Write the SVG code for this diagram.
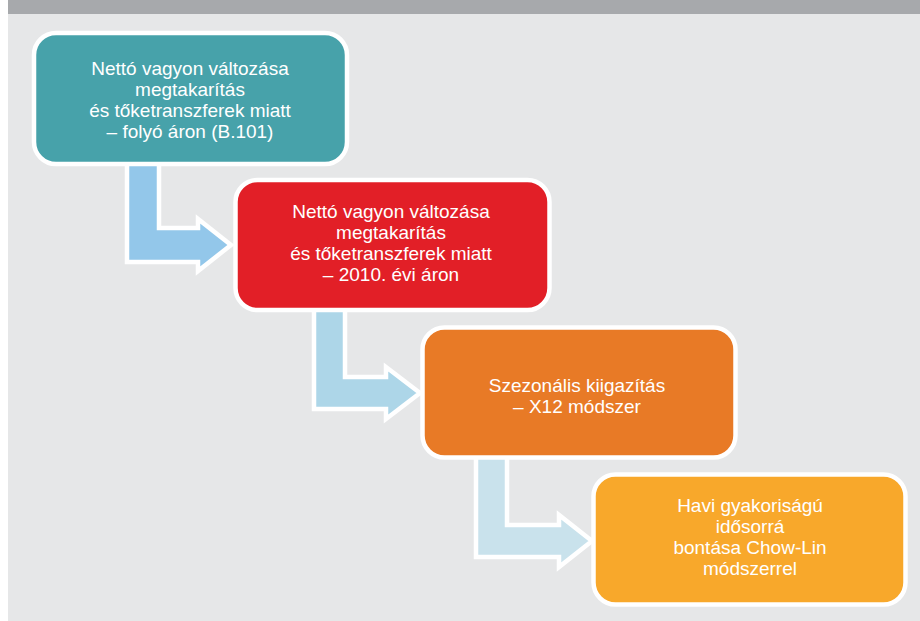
<svg xmlns="http://www.w3.org/2000/svg" width="920" height="621" viewBox="0 0 920 621">
<style>
.bg{fill:#E6E7E8}
.hdr{fill:#A7A9AC}
.box{stroke:#FFFFFF;stroke-width:4.5}
.arr{stroke:#FFFFFF;stroke-width:4.5;stroke-linejoin:miter}
.t{font-family:"Liberation Sans",Arial,sans-serif;font-size:19px;fill:#FFFFFF;text-anchor:middle}
</style>
<rect x="0" y="0" width="920" height="621" fill="#FFFFFF"/>
<rect class="hdr" x="8" y="0" width="912" height="14"/>
<rect class="bg" x="8" y="14" width="912" height="607"/>
<g id="connectors">
<polygon class="arr" fill="#93C7EA" points="127,158 159,158 159,228 198,228 198,219 231,245 198,271 198,262 127,262"/>
<polygon class="arr" fill="#ADD6E8" points="314,303 345,303 345,377 386,377 386,367 420,393 386,419 386,409 314,409"/>
<polygon class="arr" fill="#C9E2EC" points="476,452 507,452 507,525 559,525 559,515 592,541 559,567 559,557 476,557"/>
</g>
<g id="node1">
<rect class="box" x="34" y="33" width="313" height="131" rx="22" fill="#47A2AA"/>
<text class="t" x="190" y="75">Nettó vagyon változása</text>
<text class="t" x="190" y="96">megtakarítás</text>
<text class="t" x="190" y="117">és tőketranszferek miatt</text>
<text class="t" x="190" y="138">– folyó áron (B.101)</text>
</g>
<g id="node2">
<rect class="box" x="235.5" y="180" width="314" height="130" rx="22" fill="#E21F27"/>
<text class="t" x="391" y="218">Nettó vagyon változása</text>
<text class="t" x="391" y="239">megtakarítás</text>
<text class="t" x="391" y="260">és tőketranszferek miatt</text>
<text class="t" x="391" y="281">– 2010. évi áron</text>
</g>
<g id="node3">
<rect class="box" x="422.5" y="327.5" width="313" height="130" rx="22" fill="#E87A26"/>
<text class="t" x="577" y="392">Szezonális kiigazítás</text>
<text class="t" x="577" y="413">– X12 módszer</text>
</g>
<g id="node4">
<rect class="box" x="593.5" y="474.5" width="312" height="130" rx="22" fill="#F8A82B"/>
<text class="t" x="750" y="512">Havi gyakoriságú</text>
<text class="t" x="750" y="533">idősorrá</text>
<text class="t" x="750" y="554">bontása Chow-Lin</text>
<text class="t" x="750" y="575">módszerrel</text>
</g>
</svg>
